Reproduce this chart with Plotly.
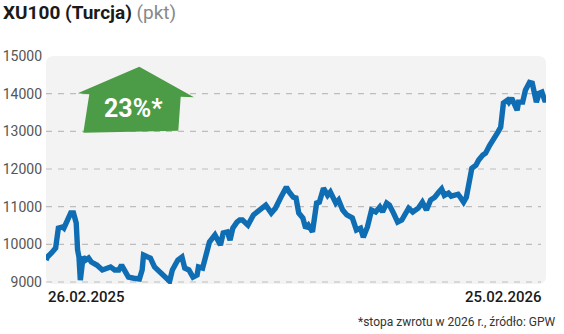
import pandas as pd
import plotly.graph_objects as go

# ---- data ----
start_date = "2025-02-26"
day_offsets = [0, 1, 4, 7, 9, 12, 13, 15, 18, 20, 22, 23, 24, 25, 27, 29, 31, 33, 37, 41,
               44, 47, 50, 53, 55, 58, 60, 64, 68, 70, 71, 74, 76, 79, 83, 87, 90, 92, 96, 99,
               101, 104, 107, 110, 111, 114, 117, 119, 123, 127, 129, 132, 134, 136, 139, 141, 143, 147, 151, 154,
               158, 160, 164, 167, 171, 175, 177, 180, 182, 184, 187, 189, 191, 194, 197, 199, 202, 205, 207, 211,
               213, 216, 219, 223, 226, 229, 231, 234, 237, 240, 243, 245, 248, 250, 253, 256, 259, 261, 264, 267,
               271, 274, 277, 280, 283, 286, 288, 290, 293, 295, 297, 300, 302, 304, 306, 308, 310, 313, 315, 318,
               320, 323, 325, 326, 329, 331, 332, 333, 336, 337, 339, 341, 343, 344, 347, 349, 352, 354, 355, 357,
               359, 361, 363, 364]
values = [9584, 9663, 9770, 9900, 10430, 10460, 10430, 10590, 10830, 10830, 10565, 9850, 9663, 9050, 9663, 9584, 9636, 9530, 9450, 9320,
          9370, 9400, 9320, 9320, 9450, 9265, 9130, 9100, 9080, 9320, 9716, 9663, 9636, 9400, 9265, 9130, 9020, 9320, 9584, 9663,
          9370, 9320, 9130, 9185, 9400, 9370, 9770, 10060, 10250, 9980, 10300, 10330, 10110, 10430, 10590, 10645, 10645, 10510, 10780, 10860,
          10960, 11040, 10830, 10960, 11250, 11520, 11390, 11250, 11230, 10830, 10700, 10430, 10510, 10330, 11095, 11120, 11490, 11300, 11390, 11095,
          11175, 10910, 10780, 10700, 10380, 10430, 10190, 10460, 10910, 10860, 10990, 10860, 11095, 11040, 10830, 10590, 10645, 10780, 10960, 10860,
          10960, 11120, 10910, 11175, 11250, 11390, 11470, 11300, 11360, 11280, 11300, 11330, 11230, 11120, 11250, 11630, 12020, 12100, 12240, 12370,
          12420, 12630, 12770, 12770, 12980, 13110, 13380, 13750, 13830, 13775, 13880, 13700, 13560, 13775, 13775, 14090, 14300, 14280, 14150, 13775,
          14010, 14040, 13830, 13830]
y_ticks = [9000, 10000, 11000, 12000, 13000, 14000, 15000]
start_label = "26.02.2025"
end_label = "25.02.2026"
title_main = "XU100 (Turcja)"
title_unit = "(pkt)"
badge_text = "23%*"
footnote = "*stopa zwrotu w 2026 r., źródło: GPW"

dates = pd.Timestamp(start_date) + pd.to_timedelta(day_offsets, unit="D")

FONT = "Roboto, 'Open Sans', sans-serif"
BLUE = "#0f6db4"
GREEN = "#4c9b46"

fig = go.Figure()
fig.add_trace(go.Scatter(x=dates, y=values, mode="lines",
                         line=dict(color=BLUE, width=5.4, shape="linear"),
                         hoverinfo="skip", showlegend=False))

shapes = []
# rounded light-grey plot background
rx, ry = 8 / 500, 8 / 228
bg_path = (f"M {rx},0 L {1-rx},0 Q 1,0 1,{ry} L 1,{1-ry} Q 1,1 {1-rx},1 "
           f"L {rx},1 Q 0,1 0,{1-ry} L 0,{ry} Q 0,0 {rx},0 Z")
shapes.append(dict(type="path", path=bg_path, xref="x domain", yref="y domain",
                   fillcolor="#f3f3f3", line=dict(width=0), layer="below"))
# dashed gridlines (not at the top edge)
for v in y_ticks[:-1]:
    shapes.append(dict(type="line", xref="x domain", yref="y", x0=0, x1=0.99, y0=v, y1=v,
                       line=dict(color="#bdbdbd", width=1.2, dash="6px,6px"), layer="below"))
# green arrow badge
arrow_pts = [(83.3, 132.7), (89.3, 94.3), (77.7, 93.3), (139.3, 66.7), (194.0, 97.3),
             (180.7, 96.7), (178.3, 130.7)]
def dom(px, py):
    return (px - 46) / 500, (284 - py) / 228
p = "M " + " L ".join(f"{dom(a, b)[0]:.4f},{dom(a, b)[1]:.4f}" for a, b in arrow_pts) + " Z"
shapes.append(dict(type="path", path=p, xref="x domain", yref="y domain",
                   fillcolor=GREEN, line=dict(width=0), layer="above"))

annotations = [
    dict(text=f"<b>{title_main}</b> <span style='color:#888888;font-weight:normal'>{title_unit}</span>",
         xref="paper", yref="paper", x=-45 / 500, y=1 + 43 / 228, xanchor="left", yanchor="middle",
         showarrow=False, font=dict(family=FONT, size=19, color="#1a1a1a")),
    dict(text=f"<b>{badge_text}</b>", xref="x domain", yref="y domain",
         x=dom(133.5, 108)[0], y=dom(133.5, 108)[1], xanchor="center", yanchor="middle",
         showarrow=False, font=dict(family=FONT, size=25, color="white")),
    dict(text=start_label, xref="paper", yref="paper", x=0.0, y=-13 / 228, xanchor="left", yanchor="middle",
         showarrow=False, font=dict(family=FONT, size=15, color="#1a1a1a", weight=500)),
    dict(text=end_label, xref="paper", yref="paper", x=(544 - 46) / 500, y=-13 / 228, xanchor="right", yanchor="middle",
         showarrow=False, font=dict(family=FONT, size=15, color="#1a1a1a", weight=500)),
    dict(text=footnote, xref="paper", yref="paper", x=(558 - 46) / 500, y=-38 / 228, xanchor="right", yanchor="middle",
         showarrow=False, font=dict(family=FONT, size=12, color="#333333")),
]

fig.update_layout(
    width=564, height=334,
    margin=dict(l=46, r=18, t=56, b=50),
    paper_bgcolor="white", plot_bgcolor="rgba(0,0,0,0)",
    shapes=shapes, annotations=annotations,
    font=dict(family=FONT),
    xaxis=dict(range=[dates[0], dates[-1]], showgrid=False, showticklabels=False, zeroline=False,
               showline=False, ticks="", automargin=False),
    yaxis=dict(range=[8947, 15000], tickvals=y_ticks, ticktext=[str(v) for v in y_ticks],
               showgrid=False, zeroline=False, showline=False, ticks="", automargin=False,
               tickfont=dict(family=FONT, size=14, color="#555555"), ticklabelstandoff=3),
)

fig.write_html("out.html")
